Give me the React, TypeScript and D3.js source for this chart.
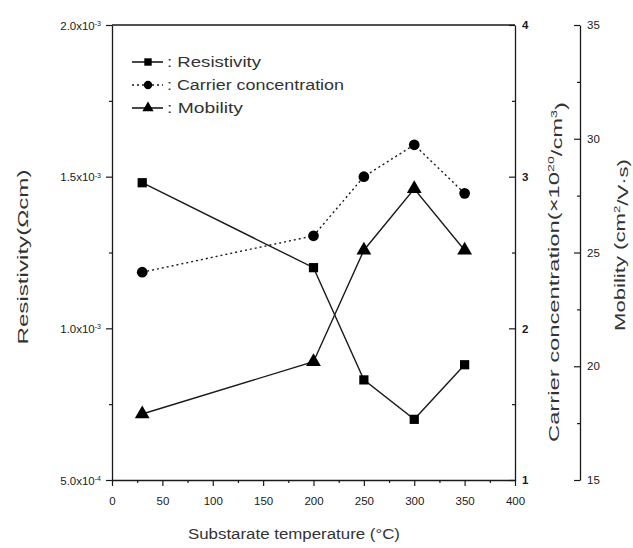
import React, { useEffect, useRef } from 'react';
import * as d3 from 'd3';

// substrate temperature (°C)
const temperatures = [30, 200, 250, 300, 350];
// resistivity, in units of 1e-3 Ωcm
const resistivity = [1.48, 1.2, 0.83, 0.7, 0.88];
// carrier concentration, x10^20 /cm3
const carrier = [2.37, 2.61, 3.0, 3.21, 2.89];
// mobility, cm2/V s
const mobility = [17.9, 20.2, 25.1, 27.8, 25.1];

const xTickValues = [0, 50, 100, 150, 200, 250, 300, 350, 400];
const xMinorTicks = [25, 75, 125, 175, 225, 275, 325, 375];
const resTickValues = [0.5, 1.0, 1.5, 2.0];
const resTickMantissa = ['5.0', '1.0', '1.5', '2.0'];
const resTickExponent = ['-4', '-3', '-3', '-3'];
const resMinorTicks = [0.75, 1.25, 1.75];
const carTickValues = [1, 2, 3, 4];
const carMinorTicks = [1.5, 2.5, 3.5];
const mobTickValues = [15, 20, 25, 30, 35];
const mobMinorTicks = [17.5, 22.5, 27.5, 32.5];

const legendLabels = [': Resistivity', ': Carrier concentration', ': Mobility'];

const W = 633;
const H = 548;
const left = 112;
const right = 515;
const top = 25;
const bottom = 480;
const mobAxisX = 580;
const FONT = '"Liberation Sans", Arial, sans-serif';
const INK = '#1a1a1a';

const App: React.FC = () => {
  const svgRef = useRef<SVGSVGElement>(null);

  useEffect(() => {
    if (!svgRef.current) return;
    const svg = d3.select(svgRef.current);
    svg.selectAll('*').remove();

    const x = d3.scaleLinear().domain([0, 400]).range([left, right]);
    const yRes = d3.scaleLinear().domain([0.5, 2.0]).range([bottom, top]);
    const yCar = d3.scaleLinear().domain([1, 4]).range([bottom, top]);
    const yMob = d3.scaleLinear().domain([15, 35]).range([bottom, top]);

    const styleAxis = (g: d3.Selection<SVGGElement, unknown, null, undefined>) => {
      g.attr('font-family', FONT).attr('font-size', 11.5).attr('color', INK);
      g.selectAll('.tick line').attr('stroke-width', 1.2);
      g.select('.domain').attr('stroke-width', 1.3);
    };

    // frame top
    svg.append('line')
      .attr('x1', left).attr('x2', right).attr('y1', top).attr('y2', top)
      .attr('stroke', INK).attr('stroke-width', 1.3);

    // --- X AXIS ---
    svg.append('g')
      .attr('transform', `translate(0,${bottom})`)
      .call(d3.axisBottom(x).tickValues(xTickValues).tickSize(6).tickSizeOuter(0).tickPadding(11))
      .call(styleAxis);
    svg.append('g')
      .attr('transform', `translate(0,${bottom})`)
      .call(d3.axisBottom(x).tickValues(xMinorTicks).tickSize(3).tickFormat(() => ''))
      .call(styleAxis)
      .call(g => g.select('.domain').remove());

    // --- LEFT (resistivity) ---
    const leftAxis = svg.append('g')
      .attr('transform', `translate(${left},0)`)
      .call(d3.axisLeft(yRes).tickValues(resTickValues).tickSize(6).tickSizeOuter(0).tickFormat(() => ''))
      .call(styleAxis);
    leftAxis.selectAll<SVGGElement, number>('.tick').each(function (d, i) {
      const t = d3.select(this).append('text')
        .attr('x', -11).attr('dy', '0.35em').attr('text-anchor', 'end')
        .attr('fill', INK).attr('font-size', 11.5);
      t.append('tspan').text(`${resTickMantissa[i]}x10`);
      t.append('tspan').attr('dy', '-0.5em').attr('font-size', 7).text(resTickExponent[i]);
    });
    svg.append('g')
      .attr('transform', `translate(${left},0)`)
      .call(d3.axisLeft(yRes).tickValues(resMinorTicks).tickSize(3).tickFormat(() => ''))
      .call(styleAxis)
      .call(g => g.select('.domain').remove());

    // --- RIGHT (carrier) ---
    svg.append('g')
      .attr('transform', `translate(${right},0)`)
      .call(d3.axisRight(yCar).tickValues(carTickValues).tickSize(-6).tickSizeOuter(0).tickPadding(7).tickFormat(d3.format('d')))
      .call(styleAxis)
      .call(g => g.selectAll('.tick text').attr('font-weight', 'bold'));
    svg.append('g')
      .attr('transform', `translate(${right},0)`)
      .call(d3.axisRight(yCar).tickValues(carMinorTicks).tickSize(-3).tickFormat(() => ''))
      .call(styleAxis)
      .call(g => g.select('.domain').remove());

    // --- FAR RIGHT (mobility) ---
    svg.append('g')
      .attr('transform', `translate(${mobAxisX},0)`)
      .call(d3.axisRight(yMob).tickValues(mobTickValues).tickSize(-6).tickSizeOuter(0).tickPadding(7).tickFormat(d3.format('d')))
      .call(styleAxis);
    svg.append('g')
      .attr('transform', `translate(${mobAxisX},0)`)
      .call(d3.axisRight(yMob).tickValues(mobMinorTicks).tickSize(-3).tickFormat(() => ''))
      .call(styleAxis)
      .call(g => g.select('.domain').remove());

    // --- SERIES ---
    const square = d3.symbol().type(d3.symbolSquare).size(85);
    const circle = d3.symbol().type(d3.symbolCircle).size(90);
    const triangle = d3.symbol().type(d3.symbolTriangle).size(95);

    const series = [
      { values: resistivity, y: yRes, dash: null as string | null, sym: square },
      { values: carrier, y: yCar, dash: '2,3', sym: circle },
      { values: mobility, y: yMob, dash: null, sym: triangle },
    ];

    series.forEach(s => {
      const line = d3.line<number>()
        .x((_, i) => x(temperatures[i]))
        .y(v => s.y(v));
      svg.append('path')
        .attr('d', line(s.values))
        .attr('fill', 'none')
        .attr('stroke', INK)
        .attr('stroke-width', 1.4)
        .attr('stroke-dasharray', s.dash);
      svg.append('g').selectAll('path')
        .data(s.values)
        .join('path')
        .attr('d', s.sym())
        .attr('transform', (v, i) => `translate(${x(temperatures[i])},${s.y(v)})`)
        .attr('fill', '#000');
    });

    // --- LEGEND ---
    const legendLengths = [94, 177, 76];
    const legend = svg.append('g').attr('font-family', FONT).attr('font-size', 14);
    legendLabels.forEach((label, i) => {
      const ly = 62 + i * 23;
      const s = series[i];
      legend.append('line')
        .attr('x1', 132).attr('x2', 163).attr('y1', ly).attr('y2', ly)
        .attr('stroke', INK).attr('stroke-width', 1.6)
        .attr('stroke-dasharray', s.dash);
      legend.append('path')
        .attr('d', d3.symbol().type(i === 0 ? d3.symbolSquare : i === 1 ? d3.symbolCircle : d3.symbolTriangle).size(55)())
        .attr('transform', `translate(148,${ly})`)
        .attr('fill', '#000');
      legend.append('text')
        .attr('x', 167).attr('y', ly).attr('dy', '0.35em')
        .attr('fill', '#333')
        .attr('textLength', legendLengths[i]).attr('lengthAdjust', 'spacingAndGlyphs')
        .text(label);
    });

    // --- AXIS TITLES ---
    svg.append('text')
      .attr('x', 294).attr('y', 539)
      .attr('text-anchor', 'middle')
      .attr('font-family', FONT).attr('font-size', 14)
      .attr('fill', '#333')
      .attr('textLength', 212).attr('lengthAdjust', 'spacingAndGlyphs')
      .text('Substarate temperature (°C)');

    svg.append('text')
      .attr('transform', `translate(28,257) rotate(-90)`)
      .attr('text-anchor', 'middle')
      .attr('font-family', FONT).attr('font-size', 15)
      .attr('fill', '#333')
      .attr('textLength', 175).attr('lengthAdjust', 'spacingAndGlyphs')
      .text('Resistivity(Ωcm)');

    const carTitle = svg.append('text')
      .attr('transform', `translate(559,272) rotate(-90)`)
      .attr('text-anchor', 'middle')
      .attr('font-family', FONT).attr('font-size', 15)
      .attr('fill', '#333')
      .attr('textLength', 340).attr('lengthAdjust', 'spacingAndGlyphs');
    carTitle.append('tspan').text('Carrier concentration(×10');
    carTitle.append('tspan').attr('dy', '-0.55em').attr('font-size', 9).text('20');
    carTitle.append('tspan').attr('dy', '0.55em').text('/cm');
    carTitle.append('tspan').attr('dy', '-0.55em').attr('font-size', 9).text('3');
    carTitle.append('tspan').attr('dy', '0.55em').text(')');

    const mobTitle = svg.append('text')
      .attr('transform', `translate(625,245) rotate(-90)`)
      .attr('text-anchor', 'middle')
      .attr('font-family', FONT).attr('font-size', 15)
      .attr('fill', '#333')
      .attr('textLength', 172).attr('lengthAdjust', 'spacingAndGlyphs');
    mobTitle.append('tspan').text('Mobility (cm');
    mobTitle.append('tspan').attr('dy', '-0.55em').attr('font-size', 9).text('2');
    mobTitle.append('tspan').attr('dy', '0.55em').text('/V·s)');
  }, []);

  return (
    <svg
      ref={svgRef}
      width={W}
      height={H}
      style={{ position: 'absolute', left: 0, top: 0, background: '#fff' }}
    />
  );
};

export default App;
